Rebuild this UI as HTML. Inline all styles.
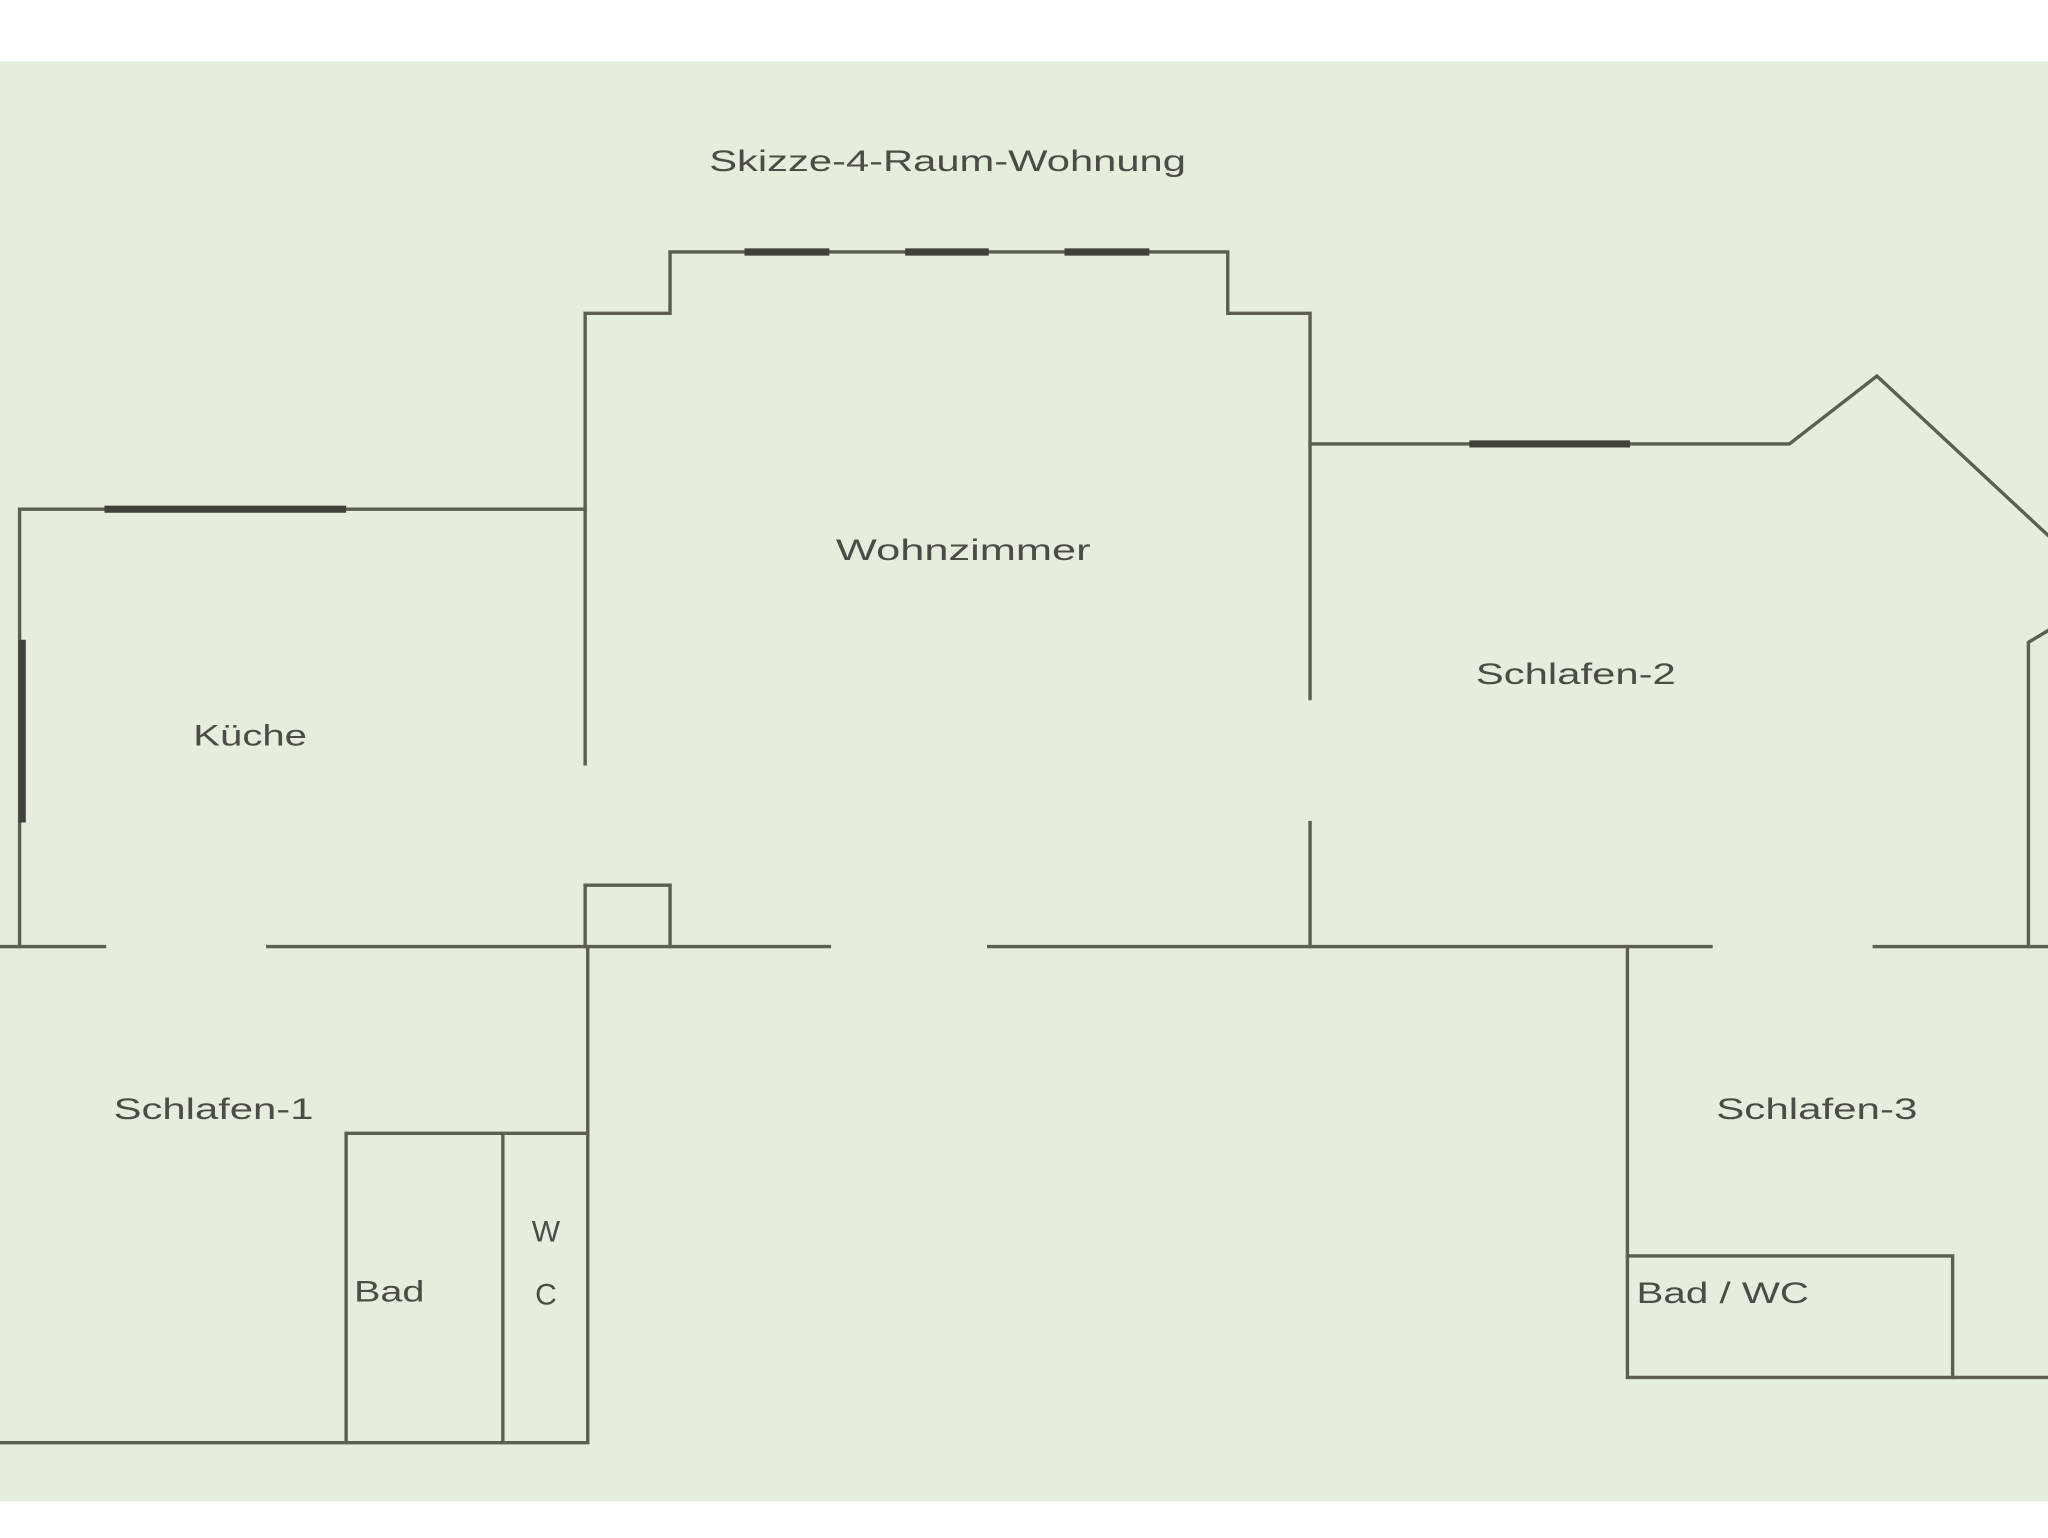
<!DOCTYPE html>
<html><head><meta charset="utf-8"><style>
html,body{margin:0;padding:0;background:#fff;}
svg{display:block;}
</style></head><body>
<svg width="2048" height="1538" viewBox="0 0 1568 1178" preserveAspectRatio="none" xmlns="http://www.w3.org/2000/svg">
<rect x="0" y="0" width="1568" height="1178" fill="#ffffff"/>
<rect x="0" y="47" width="1568" height="1103" fill="#e5eddc"/>
<g fill="none" stroke="#5a5f50" stroke-width="2.6" stroke-linecap="square">
<polyline points="448,585 448,240 513,240 513,193 940,193 940,240 1003,240 1003,535"/>
<line x1="1003" y1="630" x2="1003" y2="725"/>
<polyline points="448,390 15,390 15,725"/>
<line x1="0" y1="725" x2="80" y2="725"/>
<line x1="205" y1="725" x2="635" y2="725"/>
<line x1="757" y1="725" x2="1310" y2="725"/>
<line x1="1435" y1="725" x2="1568" y2="725"/>
<polyline points="448,725 448,678 513,678 513,725"/>
<polyline points="1003,340 1370,340 1437,288 1568,410"/>
<polyline points="1553,725 1553,492 1568,483"/>
<polyline points="450,725 450,1105 0,1105"/>
<polyline points="265,1105 265,868 450,868"/>
<line x1="385" y1="868" x2="385" y2="1105"/>
<polyline points="1246,725 1246,1055 1568,1055"/>
<polyline points="1246,962 1495,962 1495,1055"/>
</g>
<g stroke="#3e4238" stroke-width="5.5">
<line x1="570" y1="193" x2="635" y2="193"/>
<line x1="693" y1="193" x2="757" y2="193"/>
<line x1="815" y1="193" x2="880" y2="193"/>
<line x1="80" y1="390" x2="265" y2="390"/>
<line x1="17" y1="490" x2="17" y2="630"/>
<line x1="1125" y1="340" x2="1248" y2="340"/>
</g>
<g font-family="Liberation Sans, sans-serif" font-size="23" fill="#4a4d44" lengthAdjust="spacingAndGlyphs">
<text x="543" y="131" textLength="365" lengthAdjust="spacingAndGlyphs">Skizze-4-Raum-Wohnung</text>
<text x="640" y="429" textLength="195" lengthAdjust="spacingAndGlyphs">Wohnzimmer</text>
<text x="148" y="571" textLength="87" lengthAdjust="spacingAndGlyphs">Küche</text>
<text x="1130" y="524" textLength="153" lengthAdjust="spacingAndGlyphs">Schlafen-2</text>
<text x="87" y="857" textLength="153" lengthAdjust="spacingAndGlyphs">Schlafen-1</text>
<text x="1314" y="857" textLength="154" lengthAdjust="spacingAndGlyphs">Schlafen-3</text>
<text x="271" y="997" textLength="54" lengthAdjust="spacingAndGlyphs">Bad</text>
<text x="418" y="951" text-anchor="middle">W</text>
<text x="418" y="999" text-anchor="middle">C</text>
<text x="1253" y="998" textLength="132" lengthAdjust="spacingAndGlyphs">Bad / WC</text>
</g>
</svg>
</body></html>
